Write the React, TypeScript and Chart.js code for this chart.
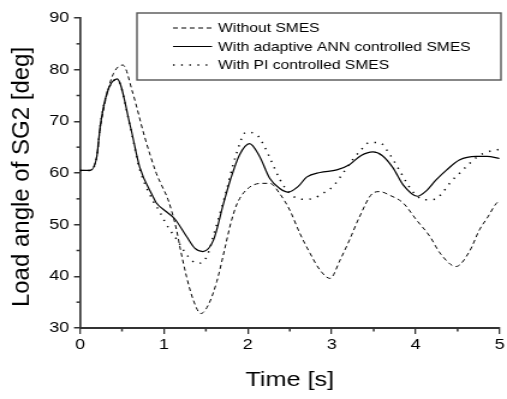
import React, { useEffect, useRef } from "react";
import { Chart, registerables } from "chart.js";

Chart.register(...registerables);

const seriesLabels = [
  "Without SMES",
  "With adaptive ANN controlled SMES",
  "With PI controlled SMES",
];
const xTitle = "Time [s]";
const yTitle = "Load angle of SG2 [deg]";

const xTicks = [0, 1, 2, 3, 4, 5];
const yTicks = [30, 40, 50, 60, 70, 80, 90];

// Without SMES (dashed)
const withoutT = [0, 0.12, 0.2, 0.24, 0.32, 0.4, 0.51, 0.63, 0.77, 0.91, 0.97, 1.05, 1.15, 1.19, 1.27, 1.35, 1.44, 1.53, 1.63, 1.72, 1.8, 1.87, 1.98, 2.16, 2.26, 2.38, 2.5, 2.62, 2.74, 2.86, 2.98, 3.1, 3.21, 3.33, 3.49, 3.57, 3.69, 3.85, 4.01, 4.17, 4.29, 4.48, 4.64, 4.76, 4.86, 4.96, 5.0];
const withoutV = [60.5, 60.5, 63.2, 68.5, 75.2, 79.3, 80.9, 75.4, 67, 59.9, 57.7, 54.8, 49, 45.7, 39.9, 35.4, 32.8, 34.5, 39, 45, 50.5, 54, 56.7, 58, 58, 56, 52.8, 48.3, 44.5, 41.2, 39.6, 43.2, 47, 51.5, 56.1, 56.4, 55.7, 54.2, 50.9, 47.7, 44.5, 41.9, 44.8, 49, 51.5, 54.1, 54.6];

// With adaptive ANN controlled SMES (solid)
const annT = [0, 0.12, 0.2, 0.24, 0.32, 0.44, 0.6, 0.71, 0.87, 0.91, 1.03, 1.13, 1.27, 1.37, 1.465, 1.59, 1.71, 1.79, 1.9, 2.02, 2.14, 2.26, 2.38, 2.48, 2.6, 2.7, 2.86, 3.06, 3.21, 3.35, 3.49, 3.6, 3.73, 3.85, 4.02, 4.13, 4.24, 4.37, 4.52, 4.72, 4.85, 5.0];
const annV = [60.5, 60.5, 63.2, 69, 75.4, 78.2, 69, 61.2, 55.4, 54.2, 52.5, 51.1, 47.7, 45.4, 44.8, 47, 54.1, 58.6, 63.5, 65.7, 63.2, 59, 57, 56.3, 57.4, 59.2, 60.1, 60.6, 61.6, 63.4, 64.1, 63.4, 61, 57.7, 55.5, 56.6, 58.6, 60.6, 62.5, 63.2, 63.2, 62.8];

// With PI controlled SMES (dotted)
const piT = [0, 0.12, 0.2, 0.24, 0.32, 0.44, 0.6, 0.71, 0.87, 0.95, 1.01, 1.07, 1.15, 1.29, 1.4, 1.51, 1.61, 1.73, 1.85, 1.98, 2.1, 2.18, 2.28, 2.38, 2.44, 2.54, 2.66, 2.78, 2.9, 3.02, 3.1, 3.25, 3.34, 3.45, 3.57, 3.67, 3.8, 3.92, 4.0, 4.1, 4.23, 4.33, 4.42, 4.52, 4.62, 4.74, 4.86, 5.0];
const piV = [60.5, 60.5, 63.2, 69, 75.4, 78.1, 68.8, 60.8, 54.6, 52.5, 50.6, 49, 47.2, 43.8, 42.5, 43.8, 49, 55.7, 63, 67.9, 67.5, 65.7, 62.3, 58.8, 57.2, 55.5, 54.9, 55.1, 56.1, 57.5, 59.2, 62.6, 64.3, 65.9, 65.9, 64.1, 60.7, 57.4, 55.8, 54.8, 54.9, 56.4, 58.3, 59.9, 61.5, 63.2, 64.1, 64.6];

const FONT = "'Liberation Sans', Arial, Helvetica, sans-serif";
const AXIS = "#333";
// the reference is drawn horizontally stretched; the canvas is rendered narrower and widened by CSS
const CANVAS_W = 422;
const CANVAS_H = 399;
const VIEW_W = 507;
const STRETCH = VIEW_W / CANVAS_W;

const toPts = (t: number[], v: number[]) => t.map((x, i) => ({ x, y: v[i] }));

const extrasPlugin = {
  id: "extras",
  afterDraw(chart: any) {
    const ctx = chart.ctx;
    const xs = chart.scales.x;
    const ys = chart.scales.y;
    const area = chart.chartArea;
    ctx.save();
    // minor ticks
    ctx.strokeStyle = AXIS;
    ctx.lineWidth = 1.5;
    for (let i = 0; i < xTicks.length - 1; i++) {
      const px = xs.getPixelForValue((xTicks[i] + xTicks[i + 1]) / 2);
      ctx.beginPath();
      ctx.moveTo(px, area.bottom);
      ctx.lineTo(px, area.bottom + 3.5);
      ctx.stroke();
    }
    for (let i = 0; i < yTicks.length - 1; i++) {
      const py = ys.getPixelForValue((yTicks[i] + yTicks[i + 1]) / 2);
      ctx.beginPath();
      ctx.moveTo(area.left, py);
      ctx.lineTo(area.left - 3, py);
      ctx.stroke();
    }
    // y axis title (drawn unstretched)
    ctx.save();
    ctx.translate(22 / STRETCH, 177);
    ctx.scale(1 / STRETCH, 1);
    ctx.rotate(-Math.PI / 2);
    ctx.font = `24px ${FONT}`;
    ctx.fillStyle = "#000";
    ctx.textAlign = "center";
    ctx.textBaseline = "middle";
    ctx.fillText(yTitle, 0, 0);
    ctx.restore();
    // legend box
    const bx = 114, by = 13, bw = 303, bh = 67;
    ctx.fillStyle = "#fff";
    ctx.fillRect(bx, by, bw, bh);
    ctx.strokeStyle = "#555";
    ctx.lineWidth = 1.4;
    ctx.strokeRect(bx, by, bw, bh);
    const rows = [28, 46.5, 65];
    ctx.font = `13px ${FONT}`;
    ctx.textBaseline = "middle";
    ctx.textAlign = "left";
    chart.data.datasets.forEach((ds: any, i: number) => {
      const y = rows[i];
      ctx.save();
      ctx.strokeStyle = "#000";
      ctx.lineWidth = ds.borderWidth;
      ctx.setLineDash(ds.borderDash || []);
      ctx.beginPath();
      ctx.moveTo(144, y);
      ctx.lineTo(176.5, y);
      ctx.stroke();
      ctx.restore();
      ctx.fillStyle = "#000";
      ctx.fillText(ds.label, 181.5, y + 0.5);
    });
    ctx.restore();
  },
};

export default function App() {
  const ref = useRef<HTMLCanvasElement | null>(null);
  useEffect(() => {
    if (!ref.current) return;
    Chart.defaults.font.family = FONT;
    const chart = new Chart(ref.current, {
      type: "line",
      data: {
        datasets: [
          {
            label: seriesLabels[0],
            data: toPts(withoutT, withoutV),
            borderColor: "#000",
            borderWidth: 1,
            borderDash: [4, 3],
            pointRadius: 0,
            cubicInterpolationMode: "monotone",
            fill: false,
          },
          {
            label: seriesLabels[1],
            data: toPts(annT, annV),
            borderColor: "#000",
            borderWidth: 1.2,
            pointRadius: 0,
            cubicInterpolationMode: "monotone",
            fill: false,
          },
          {
            label: seriesLabels[2],
            data: toPts(piT, piV),
            borderColor: "#000",
            borderWidth: 1.5,
            borderDash: [1.3, 5.5],
            pointRadius: 0,
            cubicInterpolationMode: "monotone",
            fill: false,
          },
        ],
      },
      options: {
        responsive: false,
        animation: false,
        layout: { padding: { top: 18, right: 5.8, left: 0, bottom: 0 } },
        plugins: { legend: { display: false }, tooltip: { enabled: false } },
        scales: {
          x: {
            type: "linear",
            min: 0,
            max: 5,
            afterBuildTicks: (s: any) => {
              s.ticks = xTicks.map((v) => ({ value: v }));
            },
            afterFit: (s: any) => {
              s.height = 71;
            },
            ticks: {
              font: { size: 15 },
              color: "#000",
              padding: 2,
              maxRotation: 0,
              autoSkip: false,
            },
            grid: {
              drawOnChartArea: false,
              drawTicks: true,
              tickLength: 6,
              color: AXIS,
              lineWidth: 1.3,
            },
            border: { display: true, color: AXIS, width: 2 },
            title: {
              display: true,
              text: xTitle,
              color: "#000",
              font: { size: 21 },
              padding: { top: 0, bottom: 6 },
            },
          },
          y: {
            type: "linear",
            min: 30,
            max: 90,
            afterBuildTicks: (s: any) => {
              s.ticks = yTicks.map((v) => ({ value: v }));
            },
            afterFit: (s: any) => {
              s.width = 66.6;
            },
            ticks: {
              font: { size: 15 },
              color: "#000",
              padding: 4,
              autoSkip: false,
            },
            grid: {
              drawOnChartArea: false,
              drawTicks: true,
              tickLength: 5,
              color: AXIS,
              lineWidth: 1.5,
            },
            border: { display: true, color: AXIS, width: 1.7 },
            title: { display: false },
          },
        },
      },
      plugins: [extrasPlugin],
    } as any);
    return () => chart.destroy();
  }, []);
  return (
    <div style={{ position: "fixed", left: 0, top: 0, width: VIEW_W, height: CANVAS_H, background: "#fff" }}>
      <canvas
        ref={ref}
        width={CANVAS_W}
        height={CANVAS_H}
        style={{ display: "block", width: VIEW_W + "px", height: CANVAS_H + "px" }}
      />
    </div>
  );
}
